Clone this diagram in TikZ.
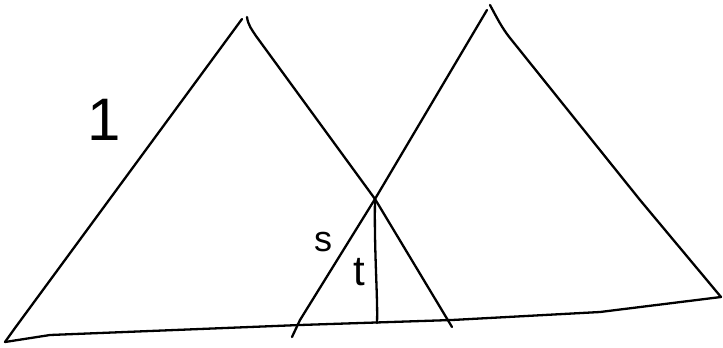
\documentclass[tikz,border=0pt]{standalone}
\usepackage{fontspec}
\setmainfont{Liberation Sans}
\begin{document}
\begin{tikzpicture}[x=1pt,y=-1pt,
  pen/.style={line width=2.3pt,line cap=round,line join=round},
  lab/.style={inner sep=0pt,font=\fontsize{#1}{#1}\selectfont}]
\useasboundingbox[fill=white] (0,0) rectangle (723,348);
% named points
\coordinate (A1) at (242,19);   % left apex (left stroke)
\coordinate (A2) at (247,17);   % left apex (right stroke)
\coordinate (B)  at (5,342);    % left base corner
\coordinate (X)  at (375,199);  % intersection of the two slanted sides
\coordinate (C)  at (452,327);  % lower end of left triangle's right side
\coordinate (D1) at (487,10);   % right apex (left stroke)
\coordinate (D2) at (490,5);    % right apex (right stroke)
\coordinate (E)  at (292,337);  % lower end of right triangle's left side
\coordinate (F)  at (721,297);  % right base corner
\coordinate (Y)  at (377,323);  % foot of vertical
% left triangle
\draw[pen] (A1) -- (15,328) -- (B);
\draw[pen] (A2) .. controls (248,25) and (252,30) .. (256,36) -- (X) -- (C);
% right triangle
\draw[pen] (D1) -- (X) -- (300,320) -- (E);
\draw[pen] (D2) .. controls (497,18) and (502,28) .. (510,38) -- (640,200) -- (F);
% base
\draw[pen] (B) -- (50,335) -- (300,325) -- (452,320) -- (600,312) -- (F);
% vertical
\draw[pen] (X) .. controls (374,250) and (378,300) .. (Y);
% labels
\node[lab=60] (one) at (104,120) {1};
\node[lab=36] (s) at (323,242) {s};
\node[lab=42] (t) at (359,272) {t};
\end{tikzpicture}
\end{document}
